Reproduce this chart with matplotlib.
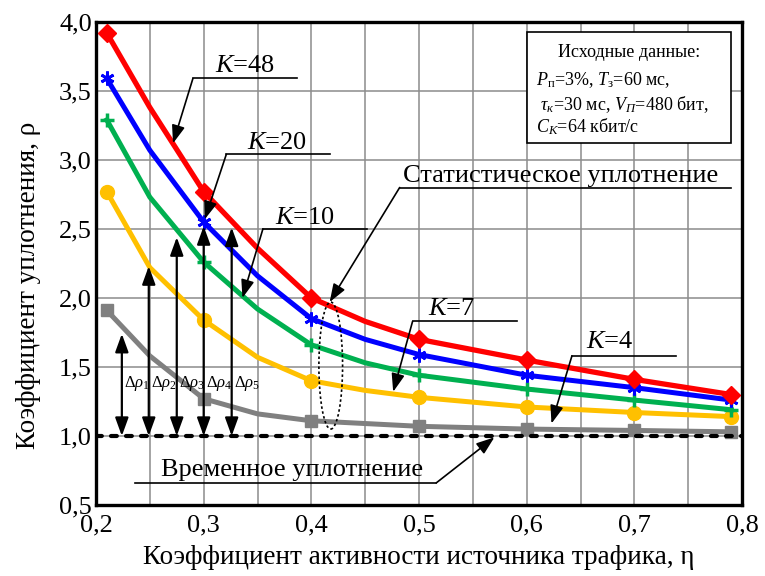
import numpy as np
import matplotlib
matplotlib.use("Agg")
import matplotlib.pyplot as plt
from matplotlib.patches import Ellipse, Rectangle
from matplotlib.ticker import FuncFormatter, MultipleLocator

plt.rcParams["font.family"] = ["Liberation Serif", "DejaVu Serif"]
plt.rcParams["mathtext.fontset"] = "custom"
plt.rcParams["mathtext.rm"] = "Liberation Serif"
plt.rcParams["mathtext.it"] = "Liberation Serif:italic"

# activity coefficient of the traffic source
eta = [0.21, 0.25, 0.3, 0.35, 0.4, 0.45, 0.5, 0.6, 0.7, 0.79]
# which of them carry a marker
marked = [0, 2, 4, 6, 7, 8, 9]

# compression coefficient for each K
rho_k48 = [3.92, 3.38, 2.77, 2.36, 2.00, 1.83, 1.70, 1.55, 1.41, 1.30]
rho_k20 = [3.59, 3.07, 2.55, 2.16, 1.85, 1.70, 1.59, 1.44, 1.35, 1.26]
rho_k10 = [3.29, 2.73, 2.26, 1.92, 1.66, 1.53, 1.44, 1.34, 1.26, 1.19]
rho_k7 = [2.77, 2.22, 1.84, 1.57, 1.40, 1.33, 1.28, 1.21, 1.17, 1.14]
rho_k4 = [1.91, 1.58, 1.27, 1.16, 1.11, 1.09, 1.07, 1.05, 1.04, 1.03]

# time compression level
rho_time = 1.0

# delta-rho arrows
drho_x = [0.224, 0.249, 0.275, 0.300, 0.326]
drho_top = [1.74, 2.23, 2.44, 2.52, 2.51]

fig = plt.figure(figsize=(7.65, 5.76), dpi=100)
ax = fig.add_axes([0.1255, 0.1233, 0.8445, 0.8387])

ax.set_xlim(0.2, 0.8)
ax.set_ylim(0.5, 4.0)
ax.xaxis.set_major_locator(MultipleLocator(0.1))
ax.xaxis.set_minor_locator(MultipleLocator(0.05))
ax.yaxis.set_major_locator(MultipleLocator(0.5))
comma = FuncFormatter(lambda v, p: f"{v:.1f}".replace(".", ","))
ax.xaxis.set_major_formatter(comma)
ax.yaxis.set_major_formatter(comma)
ax.tick_params(which="both", length=0, labelsize=19)
ax.tick_params(axis="x", pad=7)
ax.tick_params(axis="y", pad=3)
ax.grid(True, which="both", axis="x", color="#8c8c8c", lw=1.1)
ax.grid(True, which="major", axis="y", color="#8c8c8c", lw=1.1)
ax.set_axisbelow(True)
for s in ax.spines.values():
    s.set_linewidth(2.4)

ax.set_xlabel("Коэффициент активности источника трафика, η", fontsize=19.5, labelpad=6)
ax.set_ylabel("Коэффициент уплотнения, ρ", fontsize=19.5)
ax.yaxis.set_label_coords(-0.085, 0.455)

# curves
ax.plot(eta, rho_k4, color="#808080", lw=3.6, marker="s", ms=9,
        markevery=marked, zorder=3)
ax.plot(eta, rho_k7, color="#FFC000", lw=3.6, marker="o", ms=10,
        markevery=marked, zorder=3)
ax.plot(eta, rho_k10, color="#00B050", lw=3.6, marker="+", ms=10, mew=2.5,
        markevery=marked, zorder=3)
ax.plot(eta, rho_k20, color="#0000FF", lw=3.6, marker=(6, 2, 0), ms=10, mew=2,
        markevery=marked, zorder=3)
ax.plot(eta, rho_k48, color="#FF0000", lw=3.8, marker="D", ms=9,
        markevery=marked, zorder=3)

ax.plot([0.2, 0.8], [rho_time, rho_time], color="black", lw=3,
        linestyle=(0, (1.4, 2.2)), dash_capstyle="round", zorder=4)

# delta-rho arrows
arr = dict(arrowstyle="<|-|>,head_length=0.55,head_width=0.2", color="black",
           lw=1.6, mutation_scale=20, shrinkA=0, shrinkB=0)
for i, (x, top) in enumerate(zip(drho_x, drho_top)):
    ax.annotate("", xy=(x, top), xytext=(x, rho_time), arrowprops=arr, zorder=5)
    ax.text(x + 0.002, 1.38, rf"$\Delta\rho_{i + 1}$", fontsize=12,
            ha="left", va="center", zorder=6)

# leader labels
lead = dict(arrowstyle="-|>,head_length=0.55,head_width=0.2", color="black",
            lw=1.2, mutation_scale=20, shrinkA=0, shrinkB=0)


def leader(text, tx, ty, x0, x1, uy, tip, start="left", ha="center"):
    ax.text(tx, ty, text, fontsize=19, ha=ha, va="center", zorder=7)
    ax.plot([x0, x1], [uy, uy], color="black", lw=1.2, zorder=7)
    sx = x0 if start == "left" else x1
    ax.annotate("", xy=tip, xytext=(sx, uy), arrowprops=lead, zorder=7)


leader(r"$K$=48", 0.338, 3.68, 0.290, 0.387, 3.59, (0.2715, 3.12))
leader(r"$K$=20", 0.368, 3.12, 0.321, 0.417, 3.04, (0.301, 2.57))
leader(r"$K$=10", 0.394, 2.58, 0.355, 0.452, 2.50, (0.336, 2.00))
leader("Статистическое уплотнение", 0.485, 2.88, 0.482, 0.790, 2.80,
       (0.417, 1.97), ha="left")
leader(r"$K$=7", 0.530, 1.92, 0.494, 0.591, 1.83, (0.476, 1.32))
leader(r"$K$=4", 0.677, 1.68, 0.642, 0.739, 1.58, (0.623, 1.09))
leader("Временное уплотнение", 0.382, 0.75, 0.236, 0.516, 0.66,
       (0.570, 0.99), start="right")

ax.add_patch(Ellipse((0.418, 1.51), 0.022, 0.92, fill=False, ec="black",
                     lw=1.2, ls=(0, (1.5, 1.5)), zorder=6))

# input data box
ax.add_patch(Rectangle((0.667, 0.749), 0.316, 0.230, transform=ax.transAxes,
                       facecolor="white", edgecolor="black", lw=1.2, zorder=8))
ax.text(0.825, 0.936, "Исходные данные:", transform=ax.transAxes, fontsize=13,
        ha="center", va="center", zorder=9)
box_lines = [r"$P_{\mathrm{п}}$=3%, $T_{\mathrm{з}}$=60 мс,",
             r" $\tau_{к}$=30 мс, $V_{П}$=480 бит,",
             r"$C_{K}$=64 кбит/с"]
for yy, s in zip([0.880, 0.828, 0.783], box_lines):
    ax.text(0.681, yy, s, transform=ax.transAxes, fontsize=13,
            ha="left", va="center", zorder=9)

fig.savefig("out.png", dpi=100)
